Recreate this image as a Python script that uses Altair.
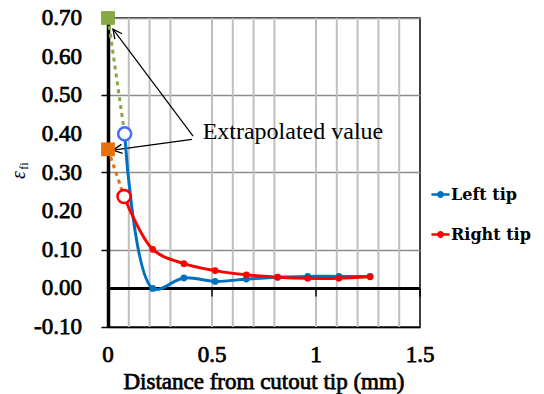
import math
import altair as alt
import pandas as pd

# ---- data ----
series_names = ["Left tip", "Right tip"]
left_x = [0.08, 0.215, 0.365, 0.515, 0.665, 0.815, 0.96, 1.11, 1.26]
left_y = [0.40, 0.000, 0.027, 0.018, 0.024, 0.029, 0.031, 0.031, 0.031]
right_x = [0.077, 0.215, 0.365, 0.515, 0.665, 0.815, 0.96, 1.11, 1.26]
right_y = [0.238, 0.101, 0.064, 0.046, 0.035, 0.029, 0.026, 0.026, 0.030]

green_x = [0.0, 0.08]
green_y = [0.70, 0.40]
orange_x = [0.0, 0.077]
orange_y = [0.36, 0.238]

vgrid_x = [0.1, 0.2, 0.3, 0.5, 0.6, 0.7, 0.8, 1.0, 1.1, 1.2, 1.3, 1.4]
x_tick_vals = [0, 0.5, 1, 1.5]
x_tick_labels = ["0", "0.5", "1", "1.5"]
y_tick_vals = [-0.1, 0.0, 0.1, 0.2, 0.3, 0.4, 0.5, 0.6, 0.7]
y_tick_labels = ["-0.10", "0.00", "0.10", "0.20", "0.30", "0.40", "0.50", "0.60", "0.70"]
x_title = "Distance from cutout tip (mm)"

note_text = "Extrapolated value"
note_x, note_y = 0.455, 0.404
arrow_start_x = [0.409, 0.404]
arrow_start_y = [0.394, 0.386]
arrow_tip_x = [0.024, 0.024]
arrow_tip_y = [0.671, 0.358]

X_DOM = [0, 1.5]
Y_DOM = [-0.1, 0.7]
W, H = 312, 309
FONT = "Liberation Serif"

xs = alt.Scale(domain=X_DOM, nice=False, zero=False)
ys = alt.Scale(domain=Y_DOM, nice=False, zero=False)
X = lambda f="x": alt.X(f"{f}:Q", scale=xs)
Y = lambda f="y": alt.Y(f"{f}:Q", scale=ys)

rows = []
for name, xv, yv in [(series_names[0], left_x, left_y), (series_names[1], right_x, right_y)]:
    for i, (a, b) in enumerate(zip(xv, yv)):
        rows.append({"series": name, "x": a, "y": b, "i": i})
df = pd.DataFrame(rows)

color_scale = alt.Scale(domain=series_names, range=["#0070C0", "#FF0000"])

# axes carrier (invisible points): ticks, domain, horizontal grid
axes = alt.Chart(df).mark_point(opacity=0).encode(
    x=alt.X("x:Q", scale=xs,
            axis=alt.Axis(values=x_tick_vals, grid=False, ticks=False, labels=False,
                          title=None, domainColor="black", domainWidth=1.5)),
    y=alt.Y("y:Q", scale=ys,
            axis=alt.Axis(values=y_tick_vals, grid=True, labels=False,
                          gridColor="#8c8c8c", gridWidth=1.5, title=None,
                          tickColor="black", tickSize=7, tickWidth=1.5,
                          domainColor="black", domainWidth=3.5)),
)

# tick labels and x title as text (bold look via stroke)
bold_text = dict(font=FONT, fontSize=23, color="black", stroke="black", strokeWidth=0.75)
ylab = alt.Chart(pd.DataFrame({"x": [X_DOM[0]] * len(y_tick_vals), "y": y_tick_vals,
                               "t": y_tick_labels})).mark_text(
    align="right", baseline="middle", dx=-26, **bold_text
).encode(x=X(), y=Y(), text="t:N")
xlab = alt.Chart(pd.DataFrame({"x": x_tick_vals, "y": [Y_DOM[0]] * len(x_tick_vals),
                               "t": x_tick_labels})).mark_text(
    align="center", baseline="middle", dy=28, **bold_text
).encode(x=X(), y=Y(), text="t:N")
xtitle = alt.Chart(pd.DataFrame({"x": [sum(X_DOM) / 2], "y": [Y_DOM[0]], "t": [x_title]})).mark_text(
    align="center", baseline="middle", dy=55, **bold_text
).encode(x=X(), y=Y(), text="t:N")

# vertical gridlines
vgrid = alt.Chart(pd.DataFrame({"x": vgrid_x})).mark_rule(
    color="#bfbfbf", strokeWidth=2
).encode(x=X())

# zero line and its ticks
zero_line = alt.Chart(pd.DataFrame({"y": [0.0]})).mark_rule(
    color="black", strokeWidth=3
).encode(y=Y())
zero_ticks = alt.Chart(pd.DataFrame({"x": x_tick_vals, "y": [0.0] * 4})).mark_tick(
    color="black", orient="vertical", size=8, thickness=2, yOffset=4
).encode(x=X(), y=Y())

# extrapolation dashed lines + squares
green_line = alt.Chart(pd.DataFrame({"x": green_x, "y": green_y})).mark_line(
    strokeWidth=3, strokeDash=[4, 4], color="#86A944").encode(x=X(), y=Y())
orange_line = alt.Chart(pd.DataFrame({"x": orange_x, "y": orange_y})).mark_line(
    strokeWidth=3, strokeDash=[4, 4], color="#E8700A").encode(x=X(), y=Y())
green_sq = alt.Chart(pd.DataFrame({"x": green_x[:1], "y": green_y[:1]})).mark_point(
    shape="square", filled=True, size=190, opacity=1, color="#86A944").encode(x=X(), y=Y())
orange_sq = alt.Chart(pd.DataFrame({"x": orange_x[:1], "y": orange_y[:1]})).mark_point(
    shape="square", filled=True, size=190, opacity=1, color="#E8700A").encode(x=X(), y=Y())

# series lines
line_left = alt.Chart(pd.DataFrame({"x": left_x, "y": left_y})).mark_line(
    strokeWidth=3, interpolate="catmull-rom", color="#0070C0").encode(x=X(), y=Y())
line_right = alt.Chart(pd.DataFrame({"x": right_x, "y": right_y})).mark_line(
    strokeWidth=3, interpolate="catmull-rom", color="#FF0000").encode(x=X(), y=Y())

legend_symbol = ("M-1,-0.13L1,-0.13L1,0.13L-1,0.13Z"
                 "M-0.38,0A0.38,0.38 0 1,1 0.38,0A0.38,0.38 0 1,1 -0.38,0Z")
pts = alt.Chart(df).transform_filter("datum.i > 0").mark_point(
    filled=True, size=45, opacity=1).encode(
    x=X(), y=Y(),
    color=alt.Color("series:N", scale=color_scale,
                    legend=alt.Legend(title=None, orient="none", legendX=323, legendY=167,
                                      symbolType=legend_symbol, symbolSize=330,
                                      symbolOpacity=1, symbolStrokeWidth=0,
                                      labelFont="DejaVu Serif", labelFontSize=16,
                                      labelFontWeight="bold",
                                      labelColor="black", labelOffset=1, rowPadding=22)),
)
circ_blue = alt.Chart(pd.DataFrame({"x": left_x[:1], "y": left_y[:1]})).mark_point(
    size=170, strokeWidth=2.5, fill="white", fillOpacity=1, opacity=1, stroke="#3F6FFF"
).encode(x=X(), y=Y())
circ_red = alt.Chart(pd.DataFrame({"x": right_x[:1], "y": right_y[:1]})).mark_point(
    size=170, strokeWidth=2.5, fill="white", fillOpacity=1, opacity=1, stroke="#FF0000"
).encode(x=X(), y=Y())

# annotation
note = alt.Chart(pd.DataFrame({"x": [note_x], "y": [note_y], "t": [note_text]})).mark_text(
    font=FONT, fontSize=24, align="left", baseline="middle", color="black"
).encode(x=X(), y=Y(), text="t:N")

arr_df = pd.DataFrame({"x": arrow_start_x, "y": arrow_start_y,
                       "x2": arrow_tip_x, "y2": arrow_tip_y})
ang = []
for sx, sy, tx, ty in zip(arrow_start_x, arrow_start_y, arrow_tip_x, arrow_tip_y):
    dx = (tx - sx) * W / (X_DOM[1] - X_DOM[0])
    dy = -(ty - sy) * H / (Y_DOM[1] - Y_DOM[0])
    ang.append(math.degrees(math.atan2(dx, -dy)) % 360)
arr_df["ang"] = ang
arrow_lines = alt.Chart(arr_df).mark_rule(color="black", strokeWidth=1.2).encode(
    x=X(), y=Y(), x2="x2:Q", y2="y2:Q")
arrow_heads = alt.Chart(arr_df).mark_point(
    shape="M-0.5,1L0,0L0.5,1", filled=False, size=330, color="black", strokeWidth=1.3, opacity=1
).encode(x=X("x2"), y=Y("y2"), angle=alt.Angle("ang:Q", scale=None))

# y title: epsilon with subscript
eps = alt.Chart(pd.DataFrame({"t": ["ε"]})).mark_text(
    font=FONT, fontSize=20, fontStyle="italic", angle=270, color="black"
).encode(x=alt.value(-89), y=alt.value(157), text="t:N")
sub = alt.Chart(pd.DataFrame({"t": ["fi"]})).mark_text(
    font=FONT, fontSize=12, angle=270, color="black"
).encode(x=alt.value(-84), y=alt.value(148), text="t:N")

chart = alt.layer(
    axes, vgrid, zero_line, zero_ticks, green_line, orange_line, arrow_lines, arrow_heads,
    line_left, line_right, pts, circ_blue, circ_red, green_sq, orange_sq, note,
    ylab, xlab, xtitle, eps, sub
).properties(
    width=W, height=H, background="white",
    autosize=alt.AutoSizeParams(type="none"),
    padding={"left": 100, "top": 10, "right": 116, "bottom": 67},
).configure_view(stroke="black", strokeWidth=1.5)

chart.save("out.html", embed_options={"renderer": "svg", "actions": False})
